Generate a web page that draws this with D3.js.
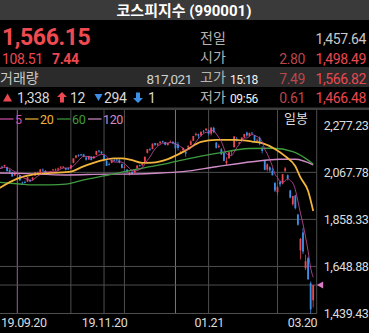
<!DOCTYPE html>
<html lang="ko">
<head>
<meta charset="UTF-8">
<title>코스피지수</title>
<style>
  body { margin: 0; background: #000; }
  svg { display: block; font-family: Roboto, "Noto Sans CJK KR", sans-serif; }
  .num { letter-spacing: -0.4px; }
</style>
</head>
<body>
<svg width="369" height="333"></svg>
<script src="https://d3js.org/d3.v7.min.js"></script>
<script>
// daily candles, 2019-09-20 .. 2020-03-20
var dates = [
  "2019-09-20","2019-09-23","2019-09-24","2019-09-25","2019-09-26","2019-09-27","2019-09-30",
  "2019-10-01","2019-10-02","2019-10-04","2019-10-07","2019-10-08","2019-10-10","2019-10-11","2019-10-14","2019-10-15",
  "2019-10-16","2019-10-17","2019-10-18","2019-10-21","2019-10-22","2019-10-23","2019-10-24","2019-10-25","2019-10-28",
  "2019-10-29","2019-10-30","2019-10-31",
  "2019-11-01","2019-11-04","2019-11-05","2019-11-06","2019-11-07","2019-11-08","2019-11-11","2019-11-12","2019-11-13",
  "2019-11-14","2019-11-15","2019-11-18","2019-11-19","2019-11-20","2019-11-21","2019-11-22","2019-11-25","2019-11-26",
  "2019-11-27","2019-11-28","2019-11-29",
  "2019-12-02","2019-12-03","2019-12-04","2019-12-05","2019-12-06","2019-12-09","2019-12-10","2019-12-11","2019-12-12",
  "2019-12-13","2019-12-16","2019-12-17","2019-12-18","2019-12-19","2019-12-20","2019-12-23","2019-12-24","2019-12-26",
  "2019-12-27","2019-12-30",
  "2020-01-02","2020-01-03","2020-01-06","2020-01-07","2020-01-08","2020-01-09","2020-01-10","2020-01-13","2020-01-14",
  "2020-01-15","2020-01-16","2020-01-17","2020-01-20","2020-01-21","2020-01-22","2020-01-23","2020-01-28","2020-01-29",
  "2020-01-30","2020-01-31",
  "2020-02-03","2020-02-04","2020-02-05","2020-02-06","2020-02-07","2020-02-10","2020-02-11","2020-02-12","2020-02-13",
  "2020-02-14","2020-02-17","2020-02-18","2020-02-19","2020-02-20","2020-02-21","2020-02-24","2020-02-25","2020-02-26",
  "2020-02-27","2020-02-28",
  "2020-03-02","2020-03-03","2020-03-04","2020-03-05","2020-03-06","2020-03-09","2020-03-10","2020-03-11","2020-03-12",
  "2020-03-13","2020-03-16","2020-03-17","2020-03-18","2020-03-19","2020-03-20"
];
var opens = [
  2085,2093,2095,2090,2078,2067,2054, 2065,2055,2022,2025,2027,2033,2035,2053,2067,2067,2080,2074,2061,2067,2076,2078,2081,2089,2090,2087,2085,
  2085,2110,2133,2145,2148,2148,2134,2125,2138,2130,2146,2165,2160,2144,2120,2105,2110,2122,2125,2122,2105,
  2090,2080,2058,2070,2065,2085,2100,2100,2112,2155,2172,2172,2198,2190,2198,2207,2203,2190,2202,2203,
  2201,2192,2150,2166,2160,2178,2190,2208,2234,2238,2232,2253,2255,2255,2240,2266,2200,2180,2170,2155,
  2108,2130,2160,2180,2217,2196,2210,2225,2245,2230,2245,2232,2205,2222,2175,2120,2080,2090,2075,2020,
  1979,2025,2018,2075,2055,1987,1926,1965,1880,1720,1800,1641,1686,1574,1498.49
];
var highs = [
  2092,2097,2101,2093,2082,2070,2067, 2072,2056,2027,2031,2047,2039,2046,2070,2071,2083,2085,2078,2068,2073,2083,2085,2089,2094,2096,2088,2090,
  2100,2130,2145,2148,2150,2150,2138,2141,2140,2140,2164,2166,2162,2146,2122,2111,2124,2128,2127,2128,2107,
  2098,2082,2070,2075,2082,2100,2102,2106,2137,2171,2177,2196,2199,2197,2206,2209,2204,2199,2210,2207,
  2202,2203,2164,2177,2162,2187,2210,2230,2245,2240,2250,2256,2263,2258,2268,2271,2203,2193,2176,2159,
  2135,2158,2166,2229,2225,2204,2224,2239,2249,2244,2246,2234,2219,2227,2185,2123,2108,2095,2087,2025,
  2007,2032,2060,2091,2058,1990,1963,1968,1883,1776,1820,1701,1693,1582,1566.82
];
var lows = [
  2080,2085,2088,2071,2066,2048,2052, 2060,2031,2015,2019,2025,2024,2032,2052,2060,2064,2070,2058,2058,2063,2076,2074,2076,2084,2088,2076,2078,
  2082,2108,2130,2137,2140,2135,2120,2123,2121,2128,2144,2155,2149,2124,2096,2098,2108,2117,2116,2108,2085,
  2085,2064,2054,2058,2064,2084,2093,2095,2111,2152,2163,2170,2185,2186,2194,2199,2188,2187,2200,2193,
  2171,2165,2149,2163,2137,2176,2188,2207,2228,2219,2228,2243,2253,2232,2232,2243,2174,2175,2145,2117,
  2100,2128,2144,2178,2205,2192,2206,2220,2226,2227,2235,2202,2199,2188,2152,2077,2072,2068,2054,1980,
  1965,2003,2014,2069,2032,1952,1919,1903,1831,1680,1704,1633,1591,1439.43,1466.48
];
var closes = [
  2091.5,2091.2,2101.0,2073.9,2068.7,2049.9,2063.1, 2063.0,2031.9,2020.7,2021.0,2046.3,2028.0,2044.6,2067.9,2068.2,2080.3,2077.9,2060.7,
  2061.3,2070.7,2080.3,2081.0,2085.3,2093.5,2092.6,2080.2,2083.5,
  2100.2,2130.2,2142.6,2144.2,2144.2,2137.7,2124.1,2140.9,2122.7,2139.2,2162.2,2160.7,2152.2,2125.3,2096.6,2101.5,2122.9,2121.2,2121.2,2110.4,2087.9,
  2091.9,2068.9,2068.0,2060.7,2081.9,2098.0,2098.0,2105.6,2137.4,2170.3,2168.2,2195.7,2190.5,2196.6,2204.2,2203.7,2190.1,2197.9,2204.2,2197.7,
  2175.2,2176.5,2155.1,2175.5,2151.3,2186.5,2206.4,2229.3,2238.9,2231.0,2248.1,2250.6,2262.6,2239.7,2267.3,2246.1,2176.7,2185.3,2148.0,2119.0,
  2118.9,2157.9,2165.6,2227.9,2212.0,2201.1,2223.1,2238.4,2232.1,2243.6,2242.2,2208.9,2210.3,2195.5,2162.8,2079.0,2103.6,2076.8,2054.9,1987.0,
  2002.5,2014.2,2059.3,2085.3,2040.2,1954.8,1962.9,1908.3,1834.3,1771.4,1714.9,1672.4,1591.2,1457.6,1566.15
];
// moving averages
var ma5 = [
  2083,2087,2091,2088,2085,2077,2071,2064,2055,2046,2040,2037,2030,2032,2042,2051,2058,2068,2071,2070,
  2070,2070,2071,2076,2082,2087,2087,2087,2090,2097,2107,2120,2132,2140,2139,2138,2134,2133,2138,2145,
  2147,2148,2139,2127,2120,2114,2113,2115,2113,2107,2096,2085,2076,2074,2076,2081,2089,2104,2122,2136,
  2155,2172,2184,2191,2198,2197,2199,2200,2199,2193,2190,2182,2176,2167,2169,2175,2190,2203,2218,2231,
  2240,2246,2246,2254,2253,2239,2223,2205,2175,2150,2146,2142,2158,2177,2193,2206,2221,2221,2228,2236,
  2233,2227,2220,2204,2171,2150,2124,2095,2060,2045,2027,2024,2030,2040,2031,2021,1990,1940,1886,1838,
  1780,1717,1642,1601
];
var ma20Idx = [0, 7, 13, 20, 28, 32, 39, 45, 48, 52, 56, 60, 66, 73, 79, 85, 92, 99, 103, 108, 112, 116, 118, 121, 123];
var ma20Val = [1998, 2040, 2058, 2065, 2071, 2090, 2118, 2130, 2130, 2122, 2110, 2111, 2127, 2165, 2203, 2212, 2212, 2205, 2198, 2172, 2140, 2095, 2045, 1985, 1896];
var ma60Idx = [0, 8, 13, 20, 26, 33, 39, 46, 52, 59, 66, 72, 85, 98, 107, 115, 120, 123];
var ma60Val = [2023, 2016, 2012, 2012, 2015, 2034, 2048, 2063, 2078, 2093, 2108, 2123, 2152, 2174, 2175, 2160, 2130, 2105];
var ma120Idx = [0, 8, 26, 43, 48, 61, 72, 85, 99, 110, 116, 123];
var ma120Val = [2065, 2063, 2056, 2060, 2060, 2064, 2071, 2093, 2115, 2126, 2126, 2101];

var maNames = ["5", "20", "60", "120"];
var maColors = ["#d04fa8", "#f2b53c", "#3f9d3f", "#cf8cc6"];

var yTicks = [2277.23, 2067.78, 1858.33, 1648.88, 1439.43];
var xLabelDates = ["2019-09-20", "2019-11-20", "2020-01-21", "2020-03-20"];
var xLabelText = ["19.09.20", "19.11.20", "01.21", "03.20"];
var gridDates = ["2019-10-01", "2019-11-01", "2019-11-20", "2019-12-02", "2020-01-02", "2020-01-21", "2020-03-02"];
var gridPink = ["2019-10-01", "2020-01-02"];

var lastPrice = 1566.15;

var red = "#ea4850", blue = "#3d8fe6", dimRed = "#b9474c", gray = "#b4b4b4";

var svg = d3.select("svg");

// ---------- quote header ----------
function txt(x, y, s, size, color, anchor, weight, cls) {
  return svg.append("text").attr("x", x).attr("y", y).text(s)
    .attr("font-size", size).attr("fill", color)
    .attr("text-anchor", anchor || "start")
    .attr("font-weight", weight || "normal")
    .attr("class", cls || null);
}
svg.append("rect").attr("x", 0).attr("y", 0).attr("width", 369).attr("height", 20).attr("fill", "#3a3a3a");
txt(184, 15.5, "코스피지수 (990001)", 15, "#fff", "middle", "bold");
svg.append("rect").attr("x", 0).attr("y", 67).attr("width", 369).attr("height", 20).attr("fill", "#2b2b2b");

txt(2, 45, "1,566.15", 23, "#f04a51", "start", "bold", "num");
txt(200, 43, "전일", 14, gray);
txt(366, 44, "1,457.64", 14, "#c8c8c8", "end", null, "num");

txt(2, 64, "108.51", 14, red, "start", null, "num");
txt(52, 64, "7.44", 14, red, "start", "bold", "num");
txt(200, 62, "시가", 14, gray);
txt(305, 64, "2.80", 14, dimRed, "end", null, "num");
txt(366, 64, "1,498.49", 14, red, "end", null, "num");

txt(0, 82.5, "거래량", 14, "#c8c8c8");
txt(192, 83.5, "817,021", 13.5, "#d0d0d0", "end", null, "num");
txt(200, 82, "고가", 14, gray);
txt(230, 83.5, "15:18", 12, "#f2f2f2", "start", null, "num");
txt(305, 84, "7.49", 14, dimRed, "end", null, "num");
txt(366, 84, "1,566.82", 14, red, "end", null, "num");

// small icons in the breadth row
function tri(cx, cy, w, up, color) {
  var h = w * 0.9;
  var p = up ? [[cx - w / 2, cy + h / 2], [cx + w / 2, cy + h / 2], [cx, cy - h / 2]]
             : [[cx - w / 2, cy - h / 2], [cx + w / 2, cy - h / 2], [cx, cy + h / 2]];
  svg.append("polygon").attr("points", p.join(" ")).attr("fill", color);
}
function arrow(cx, cy, up, color) {
  var s = up ? 1 : -1;
  var p = [[cx, cy - 5.5 * s], [cx + 5, cy - 0.5 * s], [cx + 2, cy - 0.5 * s], [cx + 2, cy + 5 * s],
           [cx - 2, cy + 5 * s], [cx - 2, cy - 0.5 * s], [cx - 5, cy - 0.5 * s]];
  svg.append("polygon").attr("points", p.join(" ")).attr("fill", color);
}
tri(7.5, 97.5, 9, true, red);
txt(17, 102.5, "1,338", 14, "#d8d8d8", "start", null, "num");
arrow(62, 97.5, true, red);
txt(70, 102.5, "12", 14, "#d8d8d8", "start", null, "num");
tri(98.5, 97.5, 8, false, blue);
txt(104, 102.5, "294", 14, "#d8d8d8", "start", null, "num");
arrow(138, 97.5, false, blue);
txt(148, 102.5, "1", 14, "#d8d8d8", "start", null, "num");
txt(200, 101.5, "저가", 14, gray);
txt(230, 102.5, "09:56", 12, "#f2f2f2", "start", null, "num");
txt(305, 103, "0.61", 14, dimRed, "end", null, "num");
txt(366, 103, "1,466.48", 14, red, "end", null, "num");

svg.append("rect").attr("x", 0).attr("y", 107.5).attr("width", 369).attr("height", 2.5).attr("fill", "#3c3c3c");

// ---------- chart ----------
var plotL = 0, plotR = 316.7, plotT = 110, plotB = 314;

var x = d3.scalePoint().domain(dates).range([-0.55, 313.2]);
var y = d3.scaleLinear().domain([1439.43, 2277.23]).range([313.5, 125.3]);

svg.append("clipPath").attr("id", "plot")
  .append("rect").attr("x", plotL).attr("y", plotT).attr("width", plotR - plotL).attr("height", plotB - plotT);

var grid = svg.append("g");
grid.selectAll("line.v").data(gridDates).enter().append("line")
  .attr("x1", function(d) { return x(d); }).attr("x2", function(d) { return x(d); })
  .attr("y1", plotT).attr("y2", plotB)
  .attr("stroke", function(d) { return gridPink.indexOf(d) >= 0 ? "#9c6290" : "#4e4e4e"; })
  .attr("stroke-width", 1);
grid.selectAll("line.h").data(yTicks.slice(1)).enter().append("line")
  .attr("x1", plotL).attr("x2", plotR)
  .attr("y1", function(d) { return y(d); }).attr("y2", function(d) { return y(d); })
  .attr("stroke", "#4e4e4e").attr("stroke-width", 1);
grid.append("line").attr("x1", plotR).attr("x2", plotR).attr("y1", plotT).attr("y2", plotB)
  .attr("stroke", "#4e4e4e");
// current price line
grid.append("line").attr("x1", plotL).attr("x2", plotR)
  .attr("y1", y(lastPrice)).attr("y2", y(lastPrice))
  .attr("stroke", "#4e4e4e");

var plot = svg.append("g").attr("clip-path", "url(#plot)");

var candles = dates.map(function(d, i) {
  return { date: d, o: opens[i], h: highs[i], l: lows[i], c: closes[i] };
});
var bw = 1.8;
var cg = plot.append("g");
cg.selectAll("line").data(candles).enter().append("line")
  .attr("x1", function(d) { return x(d.date); }).attr("x2", function(d) { return x(d.date); })
  .attr("y1", function(d) { return y(d.h); }).attr("y2", function(d) { return y(d.l); })
  .attr("stroke", function(d) { return d.c >= d.o ? red : blue; })
  .attr("stroke-width", 0.8);
cg.selectAll("rect").data(candles).enter().append("rect")
  .attr("x", function(d) { return x(d.date) - bw / 2; })
  .attr("width", bw)
  .attr("y", function(d) { return y(Math.max(d.o, d.c)); })
  .attr("height", function(d) { return Math.max(0.8, Math.abs(y(d.o) - y(d.c))); })
  .attr("fill", function(d) { return d.c >= d.o ? red : blue; });

function pts(idx, vals) {
  return idx.map(function(k, j) { return { date: dates[k], v: vals[j] }; });
}
var line = d3.line().x(function(d) { return x(d.date); }).y(function(d) { return y(d.v); });

plot.append("path").datum(pts(ma120Idx, ma120Val))
  .attr("d", line.curve(d3.curveMonotoneX)).attr("fill", "none")
  .attr("stroke", maColors[3]).attr("stroke-width", 1.4);
plot.append("path").datum(pts(ma60Idx, ma60Val))
  .attr("d", line.curve(d3.curveMonotoneX)).attr("fill", "none")
  .attr("stroke", maColors[2]).attr("stroke-width", 1.3);
plot.append("path").datum(pts(ma20Idx, ma20Val))
  .attr("d", line.curve(d3.curveMonotoneX)).attr("fill", "none")
  .attr("stroke", maColors[1]).attr("stroke-width", 1.8);
plot.append("path").datum(dates.map(function(d, i) { return { date: d, v: ma5[i] }; }))
  .attr("d", line.curve(d3.curveMonotoneX)).attr("fill", "none")
  .attr("stroke", maColors[0]).attr("stroke-width", 0.8);

// last price marker
var ly = y(lastPrice);
svg.append("polygon")
  .attr("points", [[plotR, ly], [plotR + 6.5, ly - 3.5], [plotR + 6.5, ly + 3.5]].join(" "))
  .attr("fill", "#d97ac4");

// legend
var legX = [0, 25, 57, 88];
var leg = svg.append("g");
maNames.forEach(function(n, i) {
  leg.append("line").attr("x1", legX[i]).attr("x2", legX[i] + 13.5).attr("y1", 119).attr("y2", 119)
    .attr("stroke", maColors[i]).attr("stroke-width", 1.2);
  leg.append("text").attr("x", legX[i] + 15).attr("y", 123.5).text(n)
    .attr("font-size", 12.5).attr("fill", maColors[i]).attr("class", "num");
});
txt(308, 122.5, "일봉", 13, "#dedede", "end");

// right price axis
var yAxis = svg.append("g").attr("transform", "translate(" + plotR + ",0)")
  .call(d3.axisRight(y).tickValues(yTicks).tickFormat(d3.format(",.2f")).tickSize(0).tickPadding(7));
yAxis.select(".domain").remove();
yAxis.selectAll("text").attr("fill", "#dcdcdc").attr("font-size", 12.5)
  .attr("font-family", "Roboto, sans-serif").attr("class", "num");

// bottom date axis
var xAxis = svg.append("g").attr("transform", "translate(0," + plotB + ")")
  .call(d3.axisBottom(x).tickValues(xLabelDates)
    .tickFormat(function(d) { return xLabelText[xLabelDates.indexOf(d)]; })
    .tickSize(0).tickPadding(4));
xAxis.select(".domain").remove();
xAxis.selectAll("text").attr("fill", "#dcdcdc").attr("font-size", 12.5)
  .attr("font-family", "Roboto, sans-serif").attr("class", "num")
  .attr("text-anchor", function(d, i) { return i === 0 ? "start" : (i === xLabelDates.length - 1 ? "end" : "middle"); })
  .attr("x", function(d, i) {
    if (i === 0) return plotL - x(d) + 0.5;
    if (i === xLabelDates.length - 1) return plotR - x(d);
    return 0;
  });
</script>
</body>
</html>
